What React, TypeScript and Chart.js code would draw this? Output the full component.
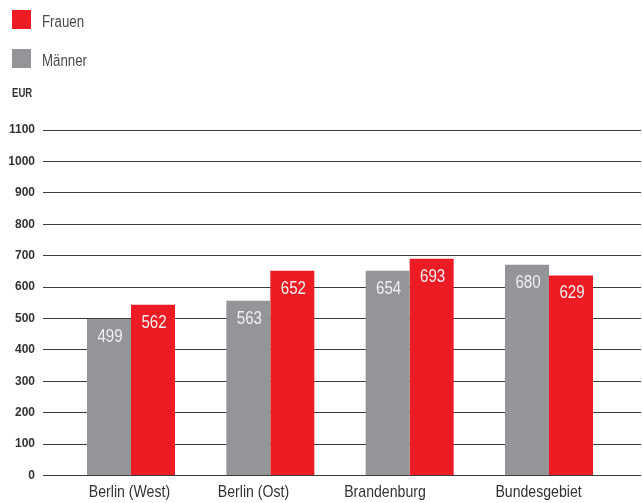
import React, { useEffect, useRef } from "react";
import { Chart, registerables } from "chart.js";

Chart.register(...registerables);

const categories = ["Berlin (West)", "Berlin (Ost)", "Brandenburg", "Bundesgebiet"];
const maennerValues = [498, 556, 652, 671];
const frauenValues = [544, 652, 690, 637];
const maennerLabels = ["499", "563", "654", "680"];
const frauenLabels = ["562", "652", "693", "629"];
const yTickValues = [0, 100, 200, 300, 400, 500, 600, 700, 800, 900, 1000, 1100];
const unitLabel = "EUR";
const seriesNames = { maenner: "Männer", frauen: "Frauen" };

// style: horizontal shift of category labels, in category units
const categoryLabelShift = [-0.011, -0.121, -0.177, -0.075];

const RED = "#ED1C24";
const GRAY = "#939598";
const SANS = "'Liberation Sans', Arial, sans-serif";

const valueLabels = [maennerLabels, frauenLabels];

function condensedText(
  ctx: CanvasRenderingContext2D,
  text: string,
  x: number,
  y: number,
  font: string,
  color: string,
  align: CanvasTextAlign,
  sx: number
) {
  ctx.save();
  ctx.translate(x, y);
  ctx.scale(sx, 1);
  ctx.font = font;
  ctx.fillStyle = color;
  ctx.textAlign = align;
  ctx.textBaseline = "alphabetic";
  ctx.fillText(text, 0, 0);
  ctx.restore();
}

const overlayPlugin = {
  id: "overlay",
  afterDatasetsDraw(chart: any) {
    const ctx = chart.ctx;
    chart.data.datasets.forEach((_: any, di: number) => {
      const meta = chart.getDatasetMeta(di);
      meta.data.forEach((el: any, i: number) => {
        condensedText(ctx, valueLabels[di][i], el.x + 1, el.y + 23, `18px ${SANS}`, "#f0f0f0", "center", 0.84);
      });
    });
  },
  afterDraw(chart: any) {
    const ctx = chart.ctx;
    const items = [
      { label: seriesNames.frauen, color: RED, y: 10 },
      { label: seriesNames.maenner, color: GRAY, y: 49 },
    ];
    items.forEach((it) => {
      ctx.fillStyle = it.color;
      ctx.fillRect(12, it.y, 19, 19);
      condensedText(ctx, it.label, 42, it.y + 17, `16px ${SANS}`, "#4a4a4a", "left", 0.83);
    });
    condensedText(ctx, unitLabel, 12, 97, `bold 12px ${SANS}`, "#333", "left", 0.8);
    const xs = chart.scales.x;
    categories.forEach((c, i) => {
      condensedText(ctx, c, xs.getPixelForValue(i + categoryLabelShift[i]), 497, `17px ${SANS}`, "#333", "center", 0.83);
    });
  },
};

export default function App() {
  const ref = useRef<HTMLCanvasElement | null>(null);
  useEffect(() => {
    if (!ref.current) return;
    const chart = new Chart(ref.current, {
      type: "bar",
      data: {
        datasets: [
          {
            label: seriesNames.maenner,
            data: maennerValues.map((v, i) => ({ x: i, y: v })),
            backgroundColor: GRAY,
            borderWidth: 0,
          },
          {
            label: seriesNames.frauen,
            data: frauenValues.map((v, i) => ({ x: i, y: v })),
            backgroundColor: RED,
            borderWidth: 0,
          },
        ],
      },
      options: {
        animation: false,
        responsive: false,
        maintainAspectRatio: false,
        events: [],
        layout: { padding: { top: 130, right: 1, bottom: 27.5, left: 0 } },
        datasets: { bar: { categoryPercentage: 0.6316, barPercentage: 1 } },
        plugins: { legend: { display: false }, tooltip: { enabled: false } },
        scales: {
          x: {
            type: "linear",
            display: false,
            offset: false,
            min: -0.6316,
            max: 3.6603,
            afterBuildTicks: (scale: any) => {
              scale.ticks = categories.map((_, i) => ({ value: i }));
            },
            grid: { display: false, drawTicks: false, offset: false },
            border: { display: false },
          },
          y: {
            min: 0,
            max: 1100,
            afterBuildTicks: (scale: any) => {
              scale.ticks = yTickValues.map((v) => ({ value: v }));
            },
            afterFit: (scale: any) => {
              scale.width = 43;
            },
            grid: { color: "#3d3d3d", lineWidth: 1, drawTicks: false },
            border: { display: false },
            ticks: {
              padding: 8,
              color: "#333",
              font: { family: SANS, size: 12, weight: "bold" },
              callback: (v: any) => String(v),
            },
          },
        },
      },
      plugins: [overlayPlugin],
    } as any);
    return () => chart.destroy();
  }, []);
  return (
    <div style={{ position: "absolute", left: 0, top: 0, width: 642, height: 503, background: "#fff" }}>
      <canvas ref={ref} width={642} height={503} style={{ display: "block" }} />
    </div>
  );
}
